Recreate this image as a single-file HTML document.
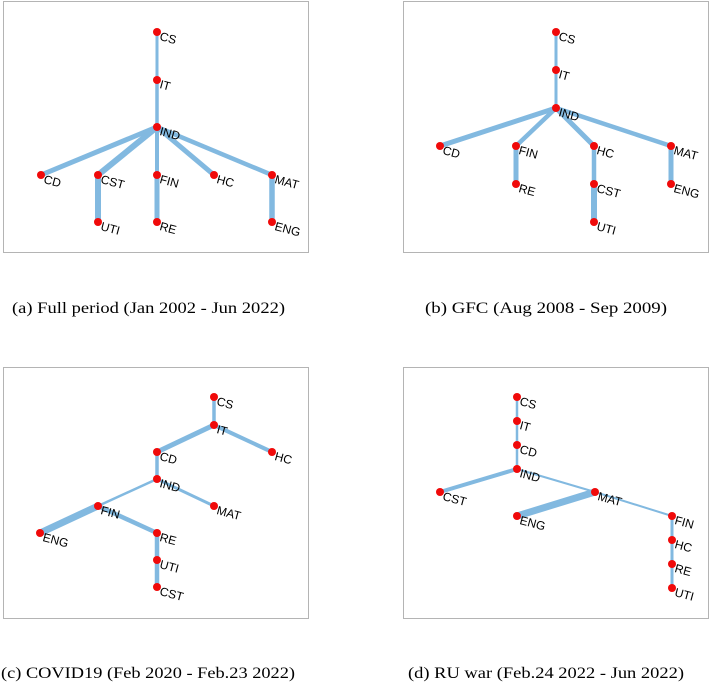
<!DOCTYPE html>
<html><head><meta charset="utf-8">
<style>
html,body{margin:0;padding:0;background:#fff;}
svg{display:block;}
.lbl{font-family:"Liberation Sans",sans-serif;font-size:12px;fill:#000;}
.cap{font-family:"Liberation Serif",serif;font-size:16px;fill:#000;}
</style></head>
<body>
<svg id="fig" width="709" height="683" viewBox="0 0 709 683" xmlns="http://www.w3.org/2000/svg"></svg>
<script>
// Panel (a)
const nodesA = [["CS",157,32],["IT",157,80],["IND",157,127],["CD",41,175],["CST",98,175],["FIN",157,175],["HC",214,175],["MAT",272,175],["UTI",98,222],["RE",157,222],["ENG",272,222]];
const edgesA = [["CS","IT",3],["IT","IND",3.5],["IND","CD",5],["IND","CST",6],["IND","FIN",4],["IND","HC",5],["IND","MAT",4.5],["CST","UTI",6],["FIN","RE",5],["MAT","ENG",5.5]];
// Panel (b)
const nodesB = [["CS",556,32],["IT",556,70],["IND",556,108],["CD",440,146],["FIN",516,146],["HC",594,146],["MAT",671,146],["RE",516,184],["CST",594,184],["ENG",671,184],["UTI",594,222]];
const edgesB = [["CS","IT",3],["IT","IND",3],["IND","CD",5],["IND","FIN",4.5],["IND","HC",5],["IND","MAT",4.5],["FIN","RE",5],["HC","CST",4.5],["CST","UTI",6],["MAT","ENG",5]];
// Panel (c)
const nodesC = [["CS",214,397],["IT",214,425],["CD",157,452],["HC",272,452],["IND",157,479],["FIN",98,506],["MAT",214,506],["ENG",40,533],["RE",157,533],["UTI",157,560],["CST",157,587]];
const edgesC = [["CS","IT",3.5],["IT","CD",5],["IT","HC",4],["CD","IND",3.5],["IND","FIN",2.5],["IND","MAT",3],["FIN","ENG",7],["FIN","RE",4.5],["RE","UTI",4.5],["UTI","CST",4.5]];
// Panel (d)
const nodesD = [["CS",517,397],["IT",517,421],["CD",517,445],["IND",517,469],["CST",440,492],["MAT",595,492],["ENG",517,516],["FIN",672,516],["HC",672,540],["RE",672,564],["UTI",672,588]];
const edgesD = [["CS","IT",2.5],["IT","CD",2.5],["CD","IND",2.5],["IND","CST",4],["IND","MAT",2],["MAT","ENG",7],["MAT","FIN",2],["FIN","HC",3],["HC","RE",3],["RE","UTI",3]];
const panelIds = ["a","b","c","d"];
const captions = ["(a)  Full period (Jan 2002 - Jun 2022)","(b)  GFC (Aug 2008 - Sep 2009)","(c)  COVID19 (Feb 2020 - Feb.23 2022)","(d)  RU war (Feb.24 2022 - Jun 2022)"];

const NS="http://www.w3.org/2000/svg";
const svg=document.getElementById('fig');
const boxes=[[3,1],[403,1],[3,367],[403,367]];
const capPos=[[12,313,273],[425,313,242],[1,678,294],[408,678,276]];
const allNodes=[nodesA,nodesB,nodesC,nodesD];
const allEdges=[edgesA,edgesB,edgesC,edgesD];
function mk(tag,attrs,parent){const e=document.createElementNS(NS,tag);for(const k in attrs)e.setAttribute(k,attrs[k]);parent.appendChild(e);return e;}
for(let p=0;p<4;p++){
  const g=mk('g',{},svg);
  
  
  const r=mk('rect',{x:boxes[p][0]+0.5,y:boxes[p][1]+0.5,width:305,height:251,fill:'#fff',stroke:'#b4b4b4','stroke-width':1},g);
  
  
  const pos={};
  allNodes[p].forEach(n=>pos[n[0]]=[n[1],n[2]]);
  allEdges[p].forEach(e=>{
    const a=pos[e[0]],b=pos[e[1]];
    const l=mk('line',{x1:a[0],y1:a[1],x2:b[0],y2:b[1],stroke:'#82b9e0','stroke-width':e[2],'stroke-linecap':'butt'},g);
    
    
  });
  allNodes[p].forEach(n=>{
    const c=mk('circle',{cx:n[1],cy:n[2],r:4,fill:'#f00a0a'},g);
    
    
    const t=mk('text',{class:'lbl',x:n[1]+3,y:n[2]+8,transform:'rotate(15 '+(n[1]+3)+' '+(n[2]+4)+')'},g);
    t.textContent=n[0];
    
    
  });
  const cp=mk('text',{class:'cap',x:capPos[p][0],y:capPos[p][1],textLength:capPos[p][2],lengthAdjust:'spacingAndGlyphs'},svg);
  cp.textContent=captions[p];
  
  
}
</script>
</body></html>
